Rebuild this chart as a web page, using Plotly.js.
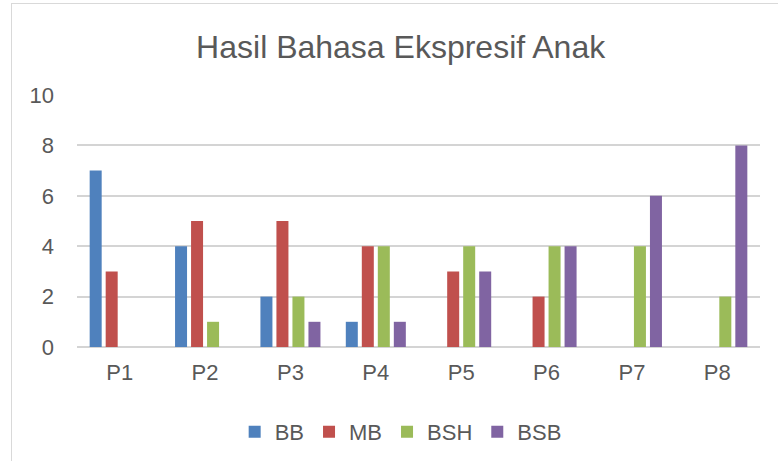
<!DOCTYPE html>
<html>
<head>
<meta charset="utf-8">
<script src="https://cdn.plot.ly/plotly-3.0.1.min.js"></script>
<style>
html,body{margin:0;padding:0;background:#fff;}
#wrap{position:relative;width:778px;height:461px;overflow:hidden;}
#frame{position:absolute;left:11px;top:3px;width:800px;height:500px;border:1.5px solid #D9D9D9;box-sizing:border-box;pointer-events:none;}
#chart{position:absolute;left:0;top:0;width:778px;height:461px;}
</style>
</head>
<body>
<div id="wrap">
<div id="chart"></div>
<div id="frame"></div>
</div>
<script>
var categories = ["P1","P2","P3","P4","P5","P6","P7","P8"];
var seriesNames = ["BB","MB","BSH","BSB"];
var BB  = [7,4,2,1,0,0,0,0];
var MB  = [3,5,5,4,3,2,0,0];
var BSH = [0,1,2,4,4,4,4,2];
var BSB = [0,0,1,1,3,4,6,8];
var colors = ["#4F81BD","#C0504D","#9BBB59","#8064A2"];
var values = [BB, MB, BSH, BSB];

var font = "Liberation Sans, Arial, Helvetica, sans-serif";
var data = values.map(function(v, i){
  return {type:"bar", name:seriesNames[i], x:categories, y:v,
          marker:{color:colors[i]}};
});
var layout = {
  width:778, height:461,
  margin:{l:77, r:18, t:95, b:114},
  paper_bgcolor:"#fff", plot_bgcolor:"#fff",
  title:{text:"Hasil Bahasa Ekspresif Anak", x:0.515, xref:"container", xanchor:"center",
         y:1-47/461, yref:"container", yanchor:"middle",
         font:{family:font, size:32, color:"#595959"}},
  barmode:"group", bargap:0.25, bargroupgap:0.25,
  xaxis:{type:"category", showgrid:false, zeroline:false, showline:false,
         ticks:"", tickfont:{family:font, size:22, color:"#595959"}, ticklabelstandoff:10},
  yaxis:{range:[0,10], dtick:2, tick0:0, showgrid:true, gridcolor:"#D4D4D4", gridwidth:2,
         zeroline:true, zerolinecolor:"#D4D4D4", zerolinewidth:2, showline:false, ticks:"",
         tickfont:{family:font, size:22, color:"#595959"}, ticklabelstandoff:22},
  showlegend:true,
  legend:{orientation:"h", xref:"container", x:0.515, xanchor:"center",
          yref:"container", y:1-432/461, yanchor:"middle",
          font:{family:font, size:22, color:"#595959"}, itemwidth:30, tracegroupgap:0}
};
Plotly.newPlot("chart", data, layout, {displayModeBar:false});
</script>
</body>
</html>
